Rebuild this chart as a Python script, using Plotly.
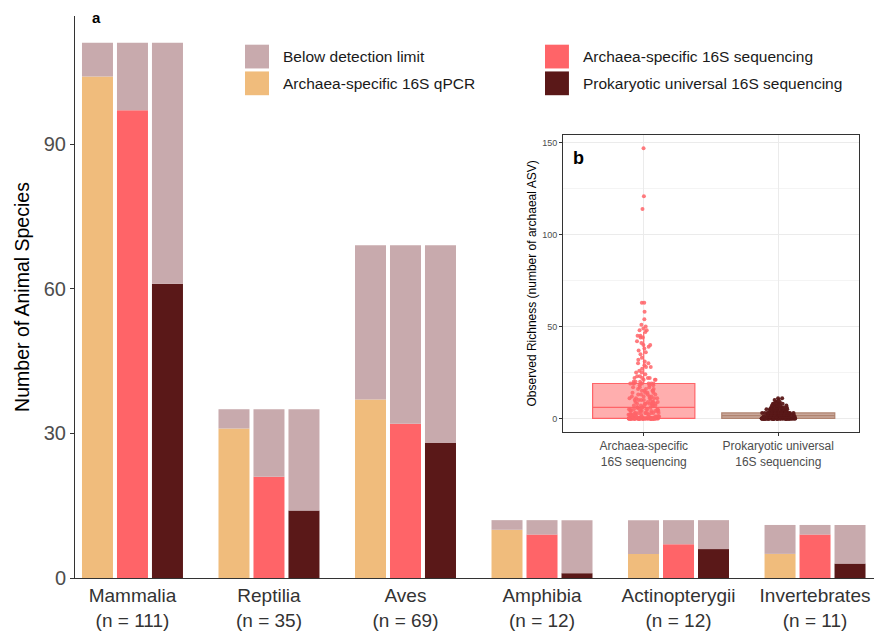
import plotly.graph_objects as go

# ---------------- data (panel a) ----------------
categories = ["Mammalia", "Reptilia", "Aves", "Amphibia", "Actinopterygii", "Invertebrates"]
n_species = [111, 35, 69, 12, 12, 11]
qpcr_detected = [104, 31, 37, 10, 5, 5]
seq_detected = [97, 21, 32, 9, 7, 9]
prok_detected = [61, 14, 28, 1, 6, 3]
y_ticks = [0, 30, 60, 90]

below_name = "Below detection limit"
method_names = ["Archaea-specific 16S qPCR",
                "Archaea-specific 16S sequencing",
                "Prokaryotic universal 16S sequencing"]

# ---------------- data (panel b) ----------------
inset_categories = ["Archaea-specific<br>16S sequencing",
                    "Prokaryotic universal<br>16S sequencing"]
inset_ticks = [0, 50, 100, 150]
richness_archaea = [
    0, 0, 0, 0, 0, 0, 0, 0, 0, 0,
    0, 0, 0, 0, 0, 0, 0, 0, 0, 0,
    0, 0, 0, 0, 0, 0, 0, 0, 0, 0,
    0, 0, 0, 0, 0, 0, 0, 0, 0, 0,
    0, 0, 0, 0, 0, 0, 0, 0, 0, 0,
    0, 0, 0, 0, 0, 0, 0, 0, 0, 0,
    0, 0, 0, 0, 0, 0, 0, 0, 0, 0,
    1, 1, 1, 1, 1, 1, 1, 1, 1,
    2, 2, 2, 2, 2, 2, 2, 2, 2,
    3, 3, 3, 3, 3, 3, 3, 3, 3,
    4, 4, 4, 4, 4, 4, 4, 4,
    5, 5, 5, 5, 5, 5, 5, 5,
    6, 6, 6, 6, 6, 6, 7, 7, 7, 7, 7, 7, 8, 8, 8, 8, 8, 8,
    9, 9, 9, 9, 9, 10, 10, 10, 10, 10, 11, 11, 11, 11, 11,
    12, 12, 12, 12, 13, 13, 13, 13, 14, 14, 14, 14, 15, 15, 15, 15,
    16, 16, 16, 17, 17, 17, 18, 18, 18,
    19, 19, 19, 19, 19, 19, 19, 19,
    20, 20, 20, 21, 21, 21, 22, 22, 22, 22, 23, 23, 24, 25, 25, 26, 27,
    28, 28, 29, 30, 30, 31, 32, 33, 35, 36, 37, 38, 39, 40, 40, 41, 42,
    44, 44, 45, 45, 47, 48, 48, 49, 50, 51, 54, 58, 63, 63, 114, 121, 147,
]
richness_prok = [
    0, 0, 0, 0, 0, 0, 0, 0, 0, 0,
    0, 0, 0, 0, 0, 0, 0, 0, 0, 0,
    0, 0, 0, 0, 0, 0, 0, 0, 0, 0,
    0, 0, 0, 0, 0, 0, 0, 0, 0, 0,
    0, 0, 0, 0, 0, 0, 0, 0, 0, 0,
    0, 0, 0, 0, 0, 0, 0, 0, 0, 0,
    0, 0, 0, 0, 0, 0, 0, 0, 0, 0,
    0, 0, 0, 0, 0, 0, 0, 0, 0, 0,
    1, 1, 1, 1, 1, 1, 1, 1, 1, 1, 1, 1, 1, 1, 1, 1, 1, 1, 1, 1, 1, 1, 1, 1, 1,
    2, 2, 2, 2, 2, 2, 2, 2, 2, 2, 2, 2, 2, 2, 2, 2, 2, 2, 2, 2, 2, 2, 2, 2, 2, 2, 2, 2,
    3, 3, 3, 3, 3, 3, 3, 3, 3, 3, 3, 3, 3, 3, 3, 3, 3, 3, 3, 3, 3, 3, 3, 3, 3,
    4, 4, 4, 4, 4, 4, 4, 4, 4, 4, 4, 4, 4, 4,
    5, 5, 5, 5, 5, 5, 5, 5, 5, 5, 5,
    6, 6, 6, 6, 6, 6, 6, 6, 6,
    7, 7, 7, 7, 7, 7,
    8, 8, 8, 8, 8,
    9, 9, 9, 10, 10, 11, 11,
]

# ---------------- styles ----------------
GRAY = "#C8AAAD"
METHOD_COLORS = ["#F0BC7C", "#FF6468", "#5A1818"]
FONT = "Liberation Sans, Arial, Helvetica, sans-serif"

x_labels = [f"{c}<br>(n = {n})" for c, n in zip(categories, n_species)]
detected = [qpcr_detected, seq_detected, prok_detected]

fig = go.Figure()

for i, (name, det, col) in enumerate(zip(method_names, detected, METHOD_COLORS)):
    below = [t - d for t, d in zip(n_species, det)]
    fig.add_trace(go.Bar(x=x_labels, y=det, name=name, offsetgroup=str(i),
                         marker=dict(color=col, line=dict(width=0)),
                         showlegend=False))
    fig.add_trace(go.Bar(x=x_labels, y=below, base=det, name=below_name,
                         offsetgroup=str(i),
                         marker=dict(color=GRAY, line=dict(width=0)),
                         showlegend=False))

# inset boxplots
fig.add_trace(go.Box(y=richness_archaea, name=inset_categories[0],
                     xaxis="x2", yaxis="y2", boxpoints="all", jitter=0.3,
                     pointpos=0, width=0.76, whiskerwidth=0,
                     marker=dict(color="#FF6468", size=4, opacity=0.85),
                     line=dict(color="#FF6468", width=1.2),
                     fillcolor="rgba(255,120,120,0.6)", showlegend=False))
fig.add_trace(go.Box(y=richness_prok, name=inset_categories[1],
                     xaxis="x2", yaxis="y2", boxpoints="all", jitter=0.3,
                     pointpos=0, width=0.84, whiskerwidth=0,
                     marker=dict(color="#5A1818", size=4, opacity=0.95),
                     line=dict(color="#B08470", width=1.2),
                     fillcolor="rgba(170,120,100,0.65)", showlegend=False))

# ---------------- manual legend ----------------
legend_items = [(below_name, GRAY), (method_names[0], METHOD_COLORS[0]),
                (method_names[1], METHOD_COLORS[1]), (method_names[2], METHOD_COLORS[2])]
col_x = [0.2128, 0.5882]
row_y = [0.9278, 0.8802]
sw_w, sw_h = 0.0300, 0.0423
shapes = []
annotations = []
for k, (label, col) in enumerate(legend_items):
    cx = col_x[k // 2]
    cy = row_y[k % 2]
    shapes.append(dict(type="rect", xref="paper", yref="paper",
                       x0=cx, x1=cx + sw_w, y0=cy - sw_h / 2, y1=cy + sw_h / 2,
                       fillcolor=col, line=dict(width=0), layer="above"))
    annotations.append(dict(text=label, xref="paper", yref="paper",
                            x=cx + sw_w + 0.0150, y=cy, xanchor="left",
                            yanchor="middle", showarrow=False,
                            font=dict(size=15.5, color="#1a1a1a", family=FONT)))

annotations.append(dict(text="<b>a</b>", xref="paper", yref="paper", x=0.0188, y=0.9965,
                        xanchor="left", yanchor="middle", showarrow=False,
                        font=dict(size=15, color="black", family=FONT)))
annotations.append(dict(text="<b>b</b>", xref="x2 domain", yref="y2 domain",
                        x=0.028, y=0.923, xanchor="left", yanchor="middle",
                        showarrow=False,
                        font=dict(size=18, color="black", family=FONT)))

fig.update_layout(
    width=874, height=631,
    margin=dict(l=75, r=0, t=16, b=47.5),
    paper_bgcolor="white", plot_bgcolor="white",
    barmode="group", bargap=0.231, bargroupgap=0.114,
    font=dict(family=FONT, color="#333333"),
    showlegend=False,
    shapes=shapes, annotations=annotations,
    xaxis=dict(range=[-0.421, 5.432], showline=True, linecolor="#333333",
               linewidth=1, ticks="", showgrid=False, zeroline=False,
               tickfont=dict(size=19, color="#333333", family=FONT)),
    yaxis=dict(range=[0, 116.55], tickvals=y_ticks, showline=True,
               linecolor="#333333", linewidth=1, ticks="outside", ticklen=4,
               tickcolor="#333333", showgrid=False, zeroline=False,
               tickfont=dict(size=20, color="#4D4D4D", family=FONT),
               title=dict(text="Number of Animal Species", standoff=8,
                          font=dict(size=19.5, color="black", family=FONT))),
    xaxis2=dict(domain=[0.6108, 0.9812], anchor="y2", type="category",
                range=[-0.6, 1.6], showline=True, mirror=True,
                linecolor="#333333", linewidth=1, showgrid=True,
                gridcolor="#EBEBEB", ticks="outside", ticklen=3,
                tickcolor="#333333", zeroline=False,
                tickfont=dict(size=12, color="#4D4D4D", family=FONT)),
    yaxis2=dict(domain=[0.2599, 0.7885], anchor="x2", range=[-7.35, 154.35],
                tickvals=inset_ticks, showline=True, mirror=True,
                linecolor="#333333", linewidth=1, showgrid=True,
                gridcolor="#EBEBEB", zeroline=False, ticks="outside",
                ticklen=3, tickcolor="#333333",
                minor=dict(tickvals=[25, 75, 125], showgrid=True,
                           gridcolor="#F4F4F4", ticks=""),
                tickfont=dict(size=9, color="#4D4D4D", family=FONT),
                title=dict(text="Observed Richness (number of archaeal ASV)",
                           standoff=2,
                           font=dict(size=12, color="black", family=FONT))),
)

fig.write_html("out.html")
